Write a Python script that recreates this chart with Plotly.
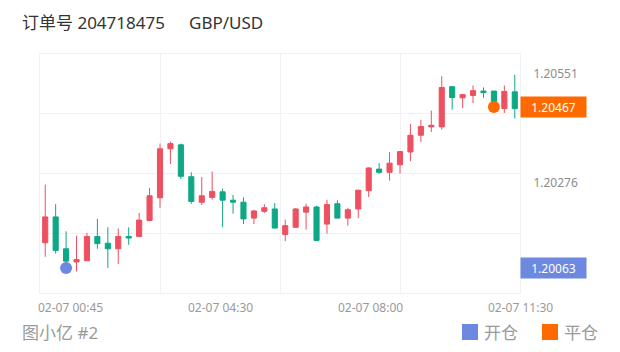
import plotly.graph_objects as go

# ---------------- data ----------------
title_order = "订单号 204718475"
title_symbol = "GBP/USD"
footer_text = "图小亿 #2"
legend_open = "开仓"
legend_close = "平仓"

idx = list(range(46))
opens = [1.20126, 1.20191, 1.20111, 1.20078, 1.20081, 1.20142, 1.20125, 1.20111, 1.20142, 1.20142,
         1.20182, 1.20239, 1.20362, 1.20372, 1.20292, 1.20228, 1.20240, 1.20254, 1.20233, 1.20228,
         1.20188, 1.20205, 1.20211, 1.20147, 1.20165, 1.20203, 1.20216, 1.20173, 1.20224, 1.20188,
         1.20211, 1.20257, 1.20311, 1.20303, 1.20322, 1.20354, 1.20396, 1.20417, 1.20417, 1.20518,
         1.20490, 1.20496, 1.20507, 1.20507, 1.20463, 1.20505]
highs = [1.20272, 1.20223, 1.20155, 1.20144, 1.20151, 1.20186, 1.20165, 1.20162, 1.20165, 1.20201,
         1.20264, 1.20375, 1.20380, 1.20375, 1.20303, 1.20291, 1.20305, 1.20262, 1.20246, 1.20240,
         1.20209, 1.20223, 1.20226, 1.20184, 1.20213, 1.20224, 1.20219, 1.20234, 1.20233, 1.20214,
         1.20259, 1.20315, 1.20326, 1.20354, 1.20356, 1.20424, 1.20435, 1.20458, 1.20544, 1.20519,
         1.20500, 1.20521, 1.20516, 1.20507, 1.20521, 1.20548]
lows = [1.20091, 1.20099, 1.20068, 1.20054, 1.20080, 1.20111, 1.20063, 1.20073, 1.20121, 1.20140,
        1.20180, 1.20214, 1.20324, 1.20286, 1.20224, 1.20221, 1.20234, 1.20165, 1.20199, 1.20173,
        1.20173, 1.20201, 1.20162, 1.20130, 1.20163, 1.20159, 1.20131, 1.20149, 1.20187, 1.20169,
        1.20188, 1.20241, 1.20299, 1.20282, 1.20300, 1.20331, 1.20379, 1.20404, 1.20410, 1.20460,
        1.20464, 1.20477, 1.20490, 1.20467, 1.20452, 1.20438]
closes = [1.20191, 1.20107, 1.20080, 1.20084, 1.20142, 1.20124, 1.20111, 1.20142, 1.20138, 1.20183,
          1.20244, 1.20362, 1.20375, 1.20293, 1.20230, 1.20244, 1.20255, 1.20233, 1.20228, 1.20186,
          1.20206, 1.20214, 1.20163, 1.20169, 1.20211, 1.20216, 1.20132, 1.20222, 1.20188, 1.20209,
          1.20258, 1.20314, 1.20303, 1.20326, 1.20355, 1.20396, 1.20418, 1.20421, 1.20516, 1.20491,
          1.20498, 1.20508, 1.20503, 1.20474, 1.20506, 1.20463]

open_trade_idx, open_trade_price = 2, 1.20063
close_trade_idx, close_trade_price = 43, 1.20467

x_label_pos = [2.375, 16.75, 31.125, 45.5]
x_label_text = ["02-07 00:45", "02-07 04:30", "02-07 08:00", "02-07 11:30"]
x_grid = [11.0, 22.5, 34.0]
y_labels = [1.20276, 1.20551]
y_grid = [1.2015, 1.2030, 1.2045]
y_range = [1.2000, 1.2060]

# ---------------- style ----------------
RED = "#ED5060"
GREEN = "#0EA886"
BLUE = "#6C89DF"
ORANGE = "#FF6A00"
GRID = "#F1F1F1"
FONT = "Noto Sans, Noto Sans CJK SC, sans-serif"

W, H = 620, 352
ML, MR, MT, MB = 40, 100, 54, 59
PW, PH = W - ML - MR, H - MT - MB


def fx(p):
    return (p - ML) / PW


def fy(p):
    return (MT + PH - p) / PH


fig = go.Figure()
fig.add_trace(go.Candlestick(
    x=idx, open=opens, high=highs, low=lows, close=closes,
    increasing=dict(line=dict(color=RED, width=1), fillcolor=RED),
    decreasing=dict(line=dict(color=GREEN, width=1), fillcolor=GREEN),
    whiskerwidth=0, showlegend=False, hoverinfo="x+y",
))

fig.add_hline(y=close_trade_price, line=dict(color="#D6D6D6", width=1.5), layer="below")
fig.add_hline(y=open_trade_price, line=dict(color="#D6D6D6", width=1.5), layer="below")

fig.add_trace(go.Scatter(
    x=[open_trade_idx], y=[open_trade_price], mode="markers",
    marker=dict(color=BLUE, size=12), showlegend=False, cliponaxis=False))
fig.add_trace(go.Scatter(
    x=[close_trade_idx], y=[close_trade_price], mode="markers",
    marker=dict(color=ORANGE, size=12), showlegend=False, cliponaxis=False))
# dummy trace for secondary grid axis
fig.add_trace(go.Scatter(x=[None], y=[None], yaxis="y2", showlegend=False))

annotations = []
# price badges
for price, col in [(close_trade_price, ORANGE), (open_trade_price, BLUE)]:
    annotations.append(dict(
        xref="paper", x=1, yref="y", y=price, xanchor="left", yanchor="middle",
        text=f"{price:.5f}", showarrow=False, bgcolor=col, width=65, height=20,
        borderpad=0, font=dict(color="white", size=12, family=FONT)))
# x labels
for pos, txt in zip(x_label_pos, x_label_text):
    annotations.append(dict(
        xref="x", x=pos, yref="paper", y=0, yanchor="top", yshift=-4,
        text=txt, showarrow=False, font=dict(color="#9A9A9A", size=12, family=FONT)))
# title
annotations.append(dict(xref="paper", x=fx(20), yref="paper", y=fy(22), xanchor="left",
                        yanchor="middle", text=title_order, showarrow=False,
                        font=dict(color="#333333", size=17, family=FONT)))
annotations.append(dict(xref="paper", x=fx(187), yref="paper", y=fy(22), xanchor="left",
                        yanchor="middle", text=title_symbol, showarrow=False,
                        font=dict(color="#333333", size=17, family=FONT)))
# footer
annotations.append(dict(xref="paper", x=fx(20), yref="paper", y=fy(332), xanchor="left",
                        yanchor="middle", text=footer_text, showarrow=False,
                        font=dict(color="#9A9A9A", size=17, family=FONT)))
annotations.append(dict(xref="paper", x=fx(482), yref="paper", y=fy(332), xanchor="left",
                        yanchor="middle", text=legend_open, showarrow=False,
                        font=dict(color="#9A9A9A", size=17, family=FONT)))
annotations.append(dict(xref="paper", x=fx(562), yref="paper", y=fy(332), xanchor="left",
                        yanchor="middle", text=legend_close, showarrow=False,
                        font=dict(color="#9A9A9A", size=17, family=FONT)))

shapes = []
for x0, col in [(462, BLUE), (542, ORANGE)]:
    shapes.append(dict(type="rect", xref="paper", yref="paper",
                       x0=fx(x0), x1=fx(x0 + 16), y0=fy(340), y1=fy(324),
                       fillcolor=col, line=dict(width=0)))

fig.update_layout(
    width=W, height=H, margin=dict(l=ML, r=MR, t=MT, b=MB),
    paper_bgcolor="white", plot_bgcolor="white",
    font=dict(family=FONT),
    boxgap=0.3,
    xaxis=dict(range=[-0.5, 45.5], tickvals=x_grid, showticklabels=False, showgrid=True,
               gridcolor=GRID, gridwidth=1, zeroline=False, showline=True, linecolor=GRID,
               mirror=True, ticks="", rangeslider=dict(visible=False), fixedrange=True),
    yaxis=dict(range=y_range, side="right", tickvals=y_labels,
               ticktext=[f"{v:.5f}" for v in y_labels], showgrid=False, zeroline=False,
               showline=True, linecolor=GRID, mirror=True, ticks="",
               ticklabelstandoff=10, tickfont=dict(size=12, color="#8C8C8C", family=FONT),
               fixedrange=True),
    yaxis2=dict(range=y_range, overlaying="y", side="left", tickvals=y_grid,
                showticklabels=False, showgrid=True, gridcolor=GRID, gridwidth=1,
                zeroline=False, ticks="", fixedrange=True),
    annotations=annotations,
    shapes=shapes,
    showlegend=False,
)

fig.write_html("out.html")
